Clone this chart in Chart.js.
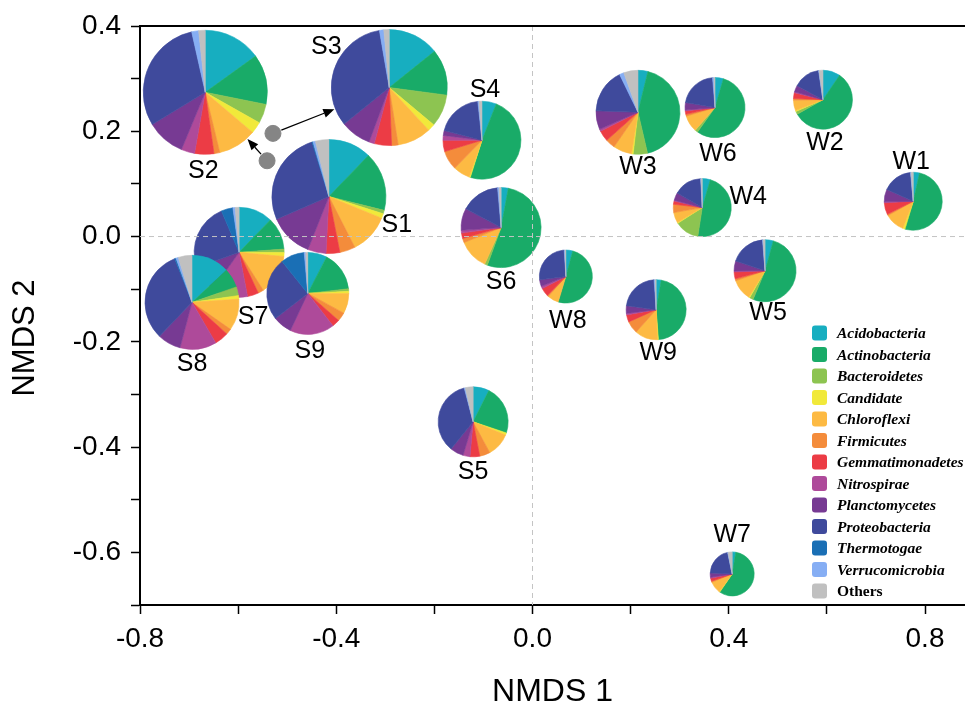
<!DOCTYPE html>
<html>
<head>
<meta charset="utf-8">
<script src="https://cdn.jsdelivr.net/npm/chart.js@4.4.1/dist/chart.umd.min.js"></script>
<style>
    html, body { margin: 0; padding: 0; background: #fff; }
    #nmdsCanvas { display: block; }
</style>
</head>
<body>
<canvas id="nmdsCanvas" width="965" height="705"></canvas>
<script>
// Muestras y coordenadas NMDS
const muestras = ['S1', 'S2', 'S3', 'S4', 'S5', 'S6', 'S7', 'S8', 'S9',
                  'W1', 'W2', 'W3', 'W4', 'W5', 'W6', 'W7', 'W8', 'W9'];
const nmds1 = [-0.415, -0.541, -0.529, -0.103, -0.121, -0.064, -0.598, -0.694, -0.458,
               0.776, 0.592, 0.215, 0.346, 0.474, 0.372, 0.407, 0.068, 0.252];
const nmds2 = [0.076, 0.144, 0.196, 0.183, -0.352, 0.017, -0.030, -0.125, -0.108,
               0.067, 0.260, 0.236, 0.055, -0.065, 0.245, -0.641, -0.076, -0.139];
// tamaño de cada pastel (radio en px)
const tamanoPie = [57, 62, 58, 39, 35, 40, 45, 47, 41, 29, 29.5, 42, 29, 31, 30, 22, 26.5, 30];

// Composición (%) por filo, mismo orden que muestras
const taxa = ['Acidobacteria', 'Actinobacteria', 'Bacteroidetes', 'Candidate', 'Chloroflexi',
              'Firmicutes', 'Gemmatimonadetes', 'Nitrospirae', 'Planctomycetes',
              'Proteobacteria', 'Thermotogae', 'Verrucomicrobia', 'Others'];
const acidobacteria    = [12.2, 15, 14.2, 6, 7.4, 2.9, 12.2, 13, 7.6, 3.5, 9.6, 3.8, 4.5, 4.3, 4.5, 2.6, 4.2, 2.7];
const actinobacteria   = [16.7, 13, 12.8, 49, 22.7, 52.7, 11.6, 6.6, 15.6, 51, 57.6, 42.5, 48, 52, 55.4, 56.4, 50.5, 46];
const bacteroidetes    = [1.0, 5, 9, 0, 0, 1.1, 1.2, 3, 1, 0.3, 1.7, 5.5, 13.5, 2, 1.5, 0, 0, 0];
const candidate        = [1.3, 3, 2, 0.5, 1, 0, 1.4, 1.2, 0.8, 1, 0.5, 0.6, 0.5, 0.5, 0, 0.5, 0, 0.5];
const chloroflexi      = [11.3, 10, 9.4, 7, 11, 12.2, 14.5, 10.8, 8, 11, 5.8, 7.2, 5.8, 11, 9, 8.7, 6.8, 12.3];
const firmicutes       = [4.4, 1.5, 1.8, 8, 4.8, 1.7, 2, 2, 3.5, 0.8, 0.9, 3.7, 4.6, 1, 1, 0.8, 0.8, 6.7];
const gemmatimonadetes = [3.9, 5, 4.8, 4.7, 4.5, 2.2, 4, 4.8, 3, 6.6, 3.2, 4.2, 1.8, 3.6, 1.8, 2.2, 5.2, 3.9];
const nitrospirae      = [5.2, 3.5, 1.5, 2, 3.2, 1.1, 12.8, 12.5, 17.5, 0.5, 0.5, 0.8, 0.5, 0.5, 0.5, 0.8, 1.5, 0.8];
const planctomycetes   = [12.5, 10, 8.5, 2, 6.2, 8.9, 9.7, 8, 7.5, 7, 3.6, 7.2, 4.2, 5.2, 4, 3, 4, 4.1];
const proteobacteria   = [26.7, 30, 33, 19.4, 35, 15.8, 24, 31.7, 24.7, 16.8, 14.8, 17.2, 15.8, 18.6, 21, 20.8, 26, 21.7];
const thermotogae      = [0.3, 0, 0, 0, 0, 0, 4.2, 0.5, 9.4, 0, 0, 0, 0, 0, 0, 0, 0, 0];
const verrucomicrobia  = [0.7, 1.8, 1.2, 0.5, 0.5, 0.6, 0.8, 0.8, 0.6, 0.3, 0.3, 1.7, 0.3, 0.3, 0.7, 0.3, 0.5, 0.6];
const others           = [3.8, 1.7, 1.5, 1.2, 3.6, 0.8, 1.4, 4.7, 0.8, 1.2, 2.1, 5.5, 0.6, 1, 0.6, 3, 0.5, 0.5];

const series = [acidobacteria, actinobacteria, bacteroidetes, candidate, chloroflexi, firmicutes,
                gemmatimonadetes, nitrospirae, planctomycetes, proteobacteria, thermotogae,
                verrucomicrobia, others];

const coloresTaxa = ['#17aec0', '#19ab68', '#8dc451', '#f1e93a', '#fdba43', '#f48c3b', '#ec3c45',
                     '#ae4a9a', '#773a93', '#3f4a9c', '#1a6fb5', '#86aef4', '#c0c0c0'];

// Pasteles desplazados (S2, S3) con flecha a su punto real
const pieDesplazado = { S2: [-0.667, 0.274], S3: [-0.292, 0.283] };

// Posición de la etiqueta respecto al centro del pastel (px)
const offsetEtiqueta = {
    S1: [68, 29], S2: [-2, 79], S3: [-63, -40], S4: [3, -50], S5: [0, 50], S6: [0, 55],
    S7: [14, 65], S8: [0, 62], S9: [2, 58], W1: [-2, -39], W2: [2, 43], W3: [0, 55],
    W4: [46, -10], W5: [3, 42], W6: [3, 47], W7: [0, -39], W8: [2, 45], W9: [2, 43]
};

const fuente = "'Liberation Sans', Arial, sans-serif";

function dibujarFlecha(ctx, x1, y1, x2, y2) {
    const ang = Math.atan2(y2 - y1, x2 - x1);
    const largo = 11, ancho = 4.5;
    const bx = x2 - largo * Math.cos(ang), by = y2 - largo * Math.sin(ang);
    ctx.strokeStyle = '#000';
    ctx.lineWidth = 1.3;
    ctx.beginPath();
    ctx.moveTo(x1, y1);
    ctx.lineTo(bx, by);
    ctx.stroke();
    ctx.fillStyle = '#000';
    ctx.beginPath();
    ctx.moveTo(x2, y2);
    ctx.lineTo(bx + ancho * Math.sin(ang), by - ancho * Math.cos(ang));
    ctx.lineTo(bx - ancho * Math.sin(ang), by + ancho * Math.cos(ang));
    ctx.closePath();
    ctx.fill();
}

const pastelesPlugin = {
    id: 'pasteles',
    afterDatasetsDraw(chart) {
        const { ctx, chartArea, scales: { x, y } } = chart;
        ctx.save();

        muestras.forEach((nombre, i) => {
            const pos = pieDesplazado[nombre] || [nmds1[i], nmds2[i]];
            const cx = x.getPixelForValue(pos[0]);
            const cy = y.getPixelForValue(pos[1]);
            const r = tamanoPie[i];
            const valores = series.map(s => s[i]);
            const total = valores.reduce((a, b) => a + b, 0);

            let inicio = -Math.PI / 2;
            valores.forEach((v, k) => {
                if (v <= 0) return;
                const fin = inicio + (v / total) * Math.PI * 2;
                ctx.beginPath();
                ctx.moveTo(cx, cy);
                ctx.arc(cx, cy, r, inicio, fin);
                ctx.closePath();
                ctx.fillStyle = coloresTaxa[k];
                ctx.fill();
                ctx.strokeStyle = coloresTaxa[k];
                ctx.lineWidth = 0.6;
                ctx.stroke();
                inicio = fin;
            });

            // flecha desde el punto real al pastel
            if (pieDesplazado[nombre]) {
                const px = x.getPixelForValue(nmds1[i]);
                const py = y.getPixelForValue(nmds2[i]);
                const dx = px - cx, dy = py - cy;
                const d = Math.hypot(dx, dy);
                const ux = dx / d, uy = dy / d;
                dibujarFlecha(ctx, px - ux * 9, py - uy * 9, cx + ux * (r + 1), cy + uy * (r + 1));
            }

            const off = offsetEtiqueta[nombre];
            ctx.fillStyle = '#000';
            ctx.font = '25px ' + fuente;
            ctx.textAlign = 'center';
            ctx.textBaseline = 'middle';
            ctx.fillText(nombre, cx + off[0], cy + off[1]);
        });

        // líneas discontinuas en cero
        const x0 = x.getPixelForValue(0);
        const y0 = y.getPixelForValue(0);
        ctx.strokeStyle = '#c4c4c4';
        ctx.lineWidth = 1;
        ctx.setLineDash([5, 4]);
        ctx.beginPath();
        ctx.moveTo(x0, chartArea.top);
        ctx.lineTo(x0, chartArea.bottom);
        ctx.moveTo(chartArea.left, y0);
        ctx.lineTo(chartArea.right, y0);
        ctx.stroke();
        ctx.setLineDash([]);

        // borde superior
        ctx.strokeStyle = '#000';
        ctx.lineWidth = 2;
        ctx.beginPath();
        ctx.moveTo(chartArea.left, chartArea.top);
        ctx.lineTo(chartArea.right, chartArea.top);
        ctx.stroke();

        // leyenda
        taxa.forEach((t, k) => {
            const ly = 333 + k * 21.5;
            ctx.fillStyle = coloresTaxa[k];
            ctx.beginPath();
            ctx.roundRect(812, ly - 7.5, 15, 15, 3);
            ctx.fill();
            ctx.fillStyle = '#000';
            ctx.font = (t === 'Others' ? 'bold ' : 'italic bold ') + "15.5px 'Liberation Serif', 'Times New Roman', serif";
            ctx.textAlign = 'left';
            ctx.textBaseline = 'middle';
            ctx.fillText(t, 837, ly + 1);
        });

        // títulos de ejes
        ctx.font = '32px ' + fuente;
        ctx.textAlign = 'center';
        ctx.textBaseline = 'middle';
        ctx.fillText('NMDS 1', (chartArea.left + chartArea.right) / 2, 692);
        ctx.save();
        ctx.translate(25, 338);
        ctx.rotate(-Math.PI / 2);
        ctx.font = '31px ' + fuente;
        ctx.fillText('NMDS 2', 0, 0);
        ctx.restore();

        ctx.restore();
    }
};

const fondoBlanco = {
    id: 'fondoBlanco',
    beforeDraw(chart) {
        const ctx = chart.ctx;
        ctx.save();
        ctx.fillStyle = '#fff';
        ctx.fillRect(0, 0, chart.width, chart.height);
        ctx.restore();
    }
};

const ctx = document.getElementById('nmdsCanvas').getContext('2d');

new Chart(ctx, {
    type: 'scatter',
    data: {
        datasets: [{
            label: 'muestras',
            data: muestras.map((m, i) => ({ x: nmds1[i], y: nmds2[i] })),
            backgroundColor: '#858585',
            borderColor: '#858585',
            pointRadius: c => (pieDesplazado[muestras[c.dataIndex]] ? 8 : 0),
            pointHoverRadius: c => (pieDesplazado[muestras[c.dataIndex]] ? 8 : 0)
        }]
    },
    plugins: [fondoBlanco, pastelesPlugin],
    options: {
        responsive: false,
        animation: false,
        devicePixelRatio: 1,
        layout: { autoPadding: false, padding: { top: 26, right: 0, left: 0, bottom: 0 } },
        plugins: {
            legend: { display: false },
            tooltip: { enabled: false }
        },
        scales: {
            x: {
                type: 'linear',
                min: -0.8,
                max: 0.8815,
                afterFit: s => { s.height = 100; s.paddingLeft = 0; s.paddingRight = 0; },
                border: { color: '#000', width: 2 },
                grid: { drawOnChartArea: false, tickColor: '#000', tickLength: 9, tickWidth: 1.5 },
                ticks: {
                    stepSize: 0.2,
                    includeBounds: false,
                    autoSkip: false,
                    maxRotation: 0,
                    padding: 8,
                    color: '#000',
                    font: { family: fuente, size: 28 },
                    callback: v => {
                        const n = Math.round(v * 10);
                        return n % 4 === 0 ? (n / 10).toFixed(1) : '';
                    }
                }
            },
            y: {
                type: 'linear',
                min: -0.7,
                max: 0.4,
                afterFit: s => { s.width = 140; s.paddingTop = 0; s.paddingBottom = 0; },
                border: { color: '#000', width: 2 },
                grid: { drawOnChartArea: false, tickColor: '#000', tickLength: 9, tickWidth: 1.5 },
                ticks: {
                    stepSize: 0.1,
                    includeBounds: false,
                    autoSkip: false,
                    padding: 10,
                    color: '#000',
                    font: { family: fuente, size: 28 },
                    callback: v => {
                        const n = Math.round(v * 10);
                        return n % 2 === 0 ? (n / 10).toFixed(1) : '';
                    }
                }
            }
        }
    }
});
</script>
</body>
</html>
